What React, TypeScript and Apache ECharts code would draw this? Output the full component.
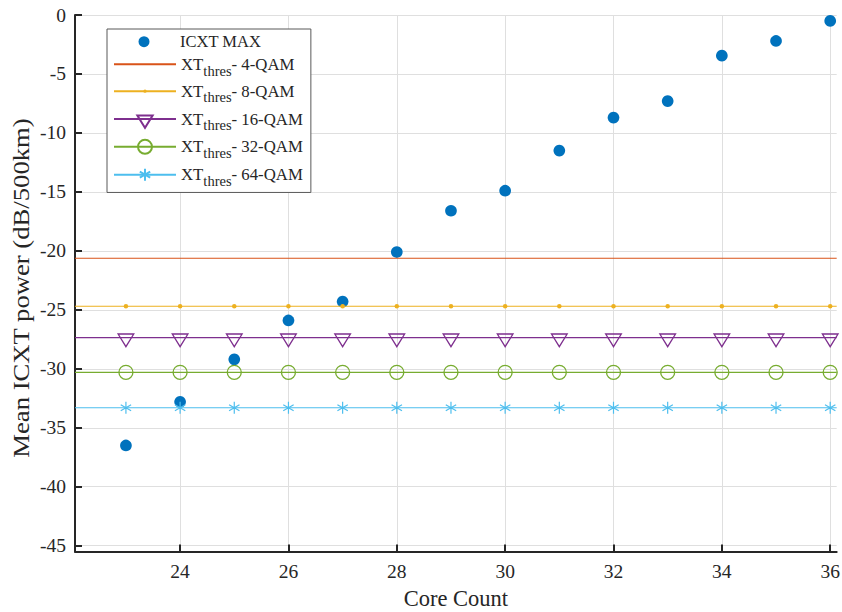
import React, { useEffect, useRef } from 'react';
import * as echarts from 'echarts';

// ---- data ----
const coreCounts = [23, 24, 25, 26, 27, 28, 29, 30, 31, 32, 33, 34, 35, 36];
const icxtMax = [-36.5, -32.8, -29.2, -25.9, -24.3, -20.1, -16.6, -14.9, -11.5, -8.7, -7.3, -3.45, -2.2, -0.5];
const thresholdNames = ['4-QAM', '8-QAM', '16-QAM', '32-QAM', '64-QAM'];
const thresholdValues = [-20.63, -24.7, -27.36, -30.3, -33.3];
const xTicks = [24, 26, 28, 30, 32, 34, 36];
const yTicks = [0, -5, -10, -15, -20, -25, -30, -35, -40, -45];
const xLimits = [22.06, 36.12];
const yLimits = [-45.5, 0];

const ICXT_NAME = 'ICXT MAX';
const X_TITLE = 'Core Count';
const Y_TITLE = 'Mean ICXT power (dB/500km)';
const thresholdSeriesName = (q: string) => 'XTthres- ' + q;

const FONT = '"Liberation Serif", "Times New Roman", serif';
const TEXT = '#262626';

const colors = ['#D95319', '#EDB120', '#7E2F8E', '#77AC30', '#4DBEEE'];

const SYM_DOT = 'path://M-5.33,-5.33M5.33,5.33M1,0A1,1,0,1,1,-1,0A1,1,0,1,1,1,0Z';
const SYM_TRI = 'path://M-1.15,-1.15M1.15,1.15M-1,-0.47L1,-0.47L0,1.15Z';
const SYM_CIRC = 'path://M-1.257,-1.257M1.257,1.257M1,0A1,1,0,1,1,-1,0A1,1,0,1,1,1,0Z';
const SYM_AST = 'path://M-1.467,-1.467M1.467,1.467M0,-1L0,1M-0.866,-0.5L0.866,0.5M-0.866,0.5L0.866,-0.5';
const SYM_ICXT_LEGEND = 'path://M-2,-2M2,2M1,0A1,1,0,1,1,-1,0A1,1,0,1,1,1,0Z';

const markerCfg: any[] = [
  { symbol: 'none', symbolSize: 0, hollow: false, bw: 0 },
  { symbol: SYM_DOT, symbolSize: 24, hollow: false, bw: 0 },
  { symbol: SYM_TRI, symbolSize: 18, hollow: true, bw: 1.3 },
  { symbol: SYM_CIRC, symbolSize: 17.6, hollow: true, bw: 1.3 },
  { symbol: SYM_AST, symbolSize: 17.6, hollow: false, bw: 1.2 },
];

const legendText = {
  fontFamily: FONT,
  fontSize: 16.8,
  color: TEXT,
  rich: {
    p: { fontFamily: FONT, fontSize: 16.5, lineHeight: 18, color: TEXT },
    m: { fontFamily: FONT, fontSize: 16.8, lineHeight: 27.5, color: TEXT },
    s: { fontFamily: FONT, fontSize: 14.5, lineHeight: 10, verticalAlign: 'bottom', color: TEXT },
  },
};

export default function App() {
  const ref = useRef<HTMLDivElement>(null);
  useEffect(() => {
    if (!ref.current) return;
    document.body.style.margin = '0';
    document.documentElement.style.overflow = 'hidden';
    const chart = echarts.init(ref.current, undefined, { renderer: 'svg' });

    const thresholdSeries = thresholdNames.map((q, i) => {
      const mc = markerCfg[i];
      const v = thresholdValues[i];
      const data: any[] = [
        { value: [xLimits[0], v], symbol: 'none' },
        ...coreCounts.map((c) => [c, v]),
        { value: [xLimits[1], v], symbol: 'none' },
      ];
      return {
        name: thresholdSeriesName(q),
        type: 'line',
        data,
        symbol: mc.symbol,
        symbolSize: mc.symbolSize,
        showSymbol: mc.symbol !== 'none',
        lineStyle: { color: colors[i], width: 1.1 },
        itemStyle: {
          color: mc.hollow ? 'rgba(255,255,255,0)' : colors[i],
          borderColor: colors[i],
          borderWidth: mc.bw,
        },
        emphasis: { disabled: true },
        silent: true,
        z: 3 + i,
      };
    });

    const option: any = {
      animation: false,
      grid: {
        left: 75,
        right: 5.3,
        top: 15,
        bottom: 60.4,
        containLabel: false,
        outerBoundsMode: 'none',
      },
      graphic: [
        {
          type: 'text',
          x: 21,
          y: 288,
          rotation: Math.PI / 2,
          scaleX: 1.16,
          style: {
            text: Y_TITLE,
            fontFamily: FONT,
            fontSize: 23,
            fill: TEXT,
            textAlign: 'center',
            textVerticalAlign: 'middle',
          },
          silent: true,
        },
      ],
      xAxis: {
        type: 'value',
        min: xLimits[0],
        max: xLimits[1],
        name: X_TITLE,
        nameLocation: 'middle',
        nameGap: 35,
        nameTextStyle: { fontFamily: FONT, fontSize: 22.5, color: TEXT },
        axisLine: { show: true, onZero: false, lineStyle: { color: TEXT, width: 2 } },
        axisTick: { show: true, inside: true, length: 7, customValues: xTicks, lineStyle: { color: TEXT, width: 2 } },
        axisLabel: {
          customValues: xTicks,
          margin: 10,
          fontFamily: FONT,
          fontSize: 19.5,
          color: TEXT,
        },
        splitLine: { show: true, lineStyle: { color: '#dfdfdf', width: 1 } },
      },
      yAxis: {
        type: 'value',
        min: yLimits[0],
        max: yLimits[1],
        axisLine: { show: true, onZero: false, lineStyle: { color: TEXT, width: 2 } },
        axisTick: { show: true, inside: true, length: 7, customValues: yTicks, lineStyle: { color: TEXT, width: 2 } },
        axisLabel: {
          customValues: yTicks,
          margin: 9,
          fontFamily: FONT,
          fontSize: 19.5,
          color: TEXT,
        },
        splitLine: { show: true, lineStyle: { color: '#dfdfdf', width: 1 } },
      },
      legend: [
        {
          // box + threshold entries
          orient: 'vertical',
          left: 107,
          top: 29,
          padding: [26.5, 8, 4, 6],
          itemGap: 4.3,
          itemWidth: 62,
          itemHeight: 22,
          selectedMode: false,
          backgroundColor: '#ffffff',
          borderColor: '#595959',
          borderWidth: 1,
          z: 4,
          data: thresholdNames.map((q, i) => ({
            name: thresholdSeriesName(q),
            itemStyle: i === 0 ? { opacity: 0 } : undefined,
          })),
          formatter: (name: string) => {
            const q = name.replace('XTthres- ', '');
            return '{m|XT}{s|thres}{m|- ' + q + '}';
          },
          textStyle: legendText,
        },
        {
          // ICXT MAX entry, drawn inside the same box (its icon bounds start 20px into the item)
          orient: 'vertical',
          left: 127,
          top: 29,
          padding: [1.7, 0, 0, 6],
          itemWidth: 62,
          itemHeight: 22,
          selectedMode: false,
          z: 6,
          data: [{ name: ICXT_NAME, icon: SYM_ICXT_LEGEND }],
          formatter: (name: string) => '{p|' + name + '}',
          textStyle: legendText,
        },
      ],
      series: [
        {
          name: ICXT_NAME,
          type: 'scatter',
          data: coreCounts.map((c, i) => [c, icxtMax[i]]),
          symbol: 'circle',
          symbolSize: 11.7,
          itemStyle: { color: '#0072BD', opacity: 1 },
          emphasis: { disabled: true },
          silent: true,
          z: 2,
        },
        ...thresholdSeries,
      ],
    };
    chart.setOption(option);
    return () => chart.dispose();
  }, []);

  return (
    <div
      ref={ref}
      style={{ position: 'absolute', left: 0, top: 0, width: 842, height: 612, background: '#fff' }}
    />
  );
}
